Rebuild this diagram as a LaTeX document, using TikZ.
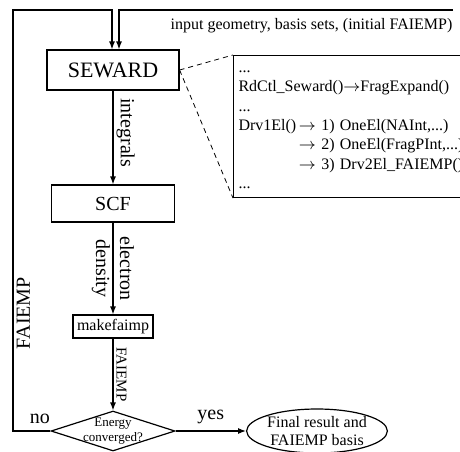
\documentclass[tikz,border=0pt]{standalone}
\usepackage{fontspec}
\setmainfont{Liberation Serif}
\usetikzlibrary{arrows.meta,shapes.geometric}

\tikzset{
  procbox/.style={draw, rectangle, inner sep=0pt, line width=0.6pt},
  flow/.style={draw, line width=0.6pt, -{Latex[length=4pt,width=3pt]}},
  downlabel/.style={rotate=-90, anchor=south, inner sep=1.5pt,
    font=\fontsize{10}{12}\selectfont},
  zoomline/.style={dash pattern=on 2.5pt off 2pt, line width=0.4pt},
}

\begin{document}
\begin{tikzpicture}[x=0.5pt, y=-0.5pt]%
\useasboundingbox (0,0) rectangle (460,451);
% programs
\node [procbox, minimum width=66pt, minimum height=20pt,
  font=\fontsize{11}{13}\selectfont] (seward) at (113,70) {SEWARD};
\node [procbox, minimum width=61.5pt, minimum height=18.5pt,
  font=\fontsize{10}{12}\selectfont] (scf) at (113,203.5) {SCF};
\node [procbox, minimum width=40pt, minimum height=11.5pt,
  font=\fontsize{8}{9.5}\selectfont] (make) at (113,326.5) {makefaimp};
\node [draw, diamond, minimum width=62pt, minimum height=20pt, inner sep=0pt,
  line width=0.6pt,
  label={[align=center, font=\fontsize{6.5}{7.5}\selectfont]center:Energy\\converged?}]
  (conv) at (113,431) {};
\node [draw, ellipse, minimum width=68pt, minimum height=22pt, inner sep=0pt,
  line width=0.6pt, align=center, font=\fontsize{8}{9}\selectfont]
  (final) at (317,431) {Final result and\\FAIEMP basis};
% zoom into seward
\node [draw, line width=0.5pt, anchor=north west, text width=120pt,
  inner xsep=2.5pt, inner ysep=1.75pt, align=left,
  font=\fontsize{8}{9.65}\selectfont] (code) at (233,55) {%
\strut...\\
RdCtl\_Seward()$\rightarrow$FragExpand()\\
...\\
Drv1El()\,$\rightarrow$ 1) OneEl(NAInt,...)\\
\phantom{Drv1El()\,}$\rightarrow$ 2) OneEl(FragPInt,...)\\
\phantom{Drv1El()\,}$\rightarrow$ 3) Drv2El\_FAIEMP()\\
...\strut};
\draw [zoomline] (seward.east) -- (code.north west);
\draw [zoomline] (seward.east) -- (code.south west);
% data flow
\coordinate (inp) at (453,10);
\coordinate (loop) at (13,10);
\draw [flow] (inp) -| node [pos=0, anchor=north east, inner xsep=0pt,
  inner ysep=4pt, font=\fontsize{8}{9.5}\selectfont]
  {input geometry, basis sets, (initial FAIEMP)} ([xshift=3pt]seward.north);
\draw [flow] (seward) -- node [downlabel, pos=0.45] {integrals} (scf);
\draw [flow] (scf) -- node [rotate=-90, align=center,
  font=\fontsize{10}{12}\selectfont] {electron\\density} (make);
\draw [flow] (make) -- node [downlabel, font=\fontsize{7.5}{9}\selectfont]
  {FAIEMP} (conv);
\draw [flow] (conv) -- node [above, font=\fontsize{10}{12}\selectfont] {yes} (final);
\draw [flow] (conv.west) -| node [pos=0.14, above,
  font=\fontsize{10}{12}\selectfont] {no}
  node [pos=0.64, rotate=90, anchor=north, inner sep=1.5pt,
  font=\fontsize{10}{12}\selectfont] {FAIEMP}
  (loop) -| ([xshift=-0.5pt]seward.north);
\end{tikzpicture}
\end{document}
